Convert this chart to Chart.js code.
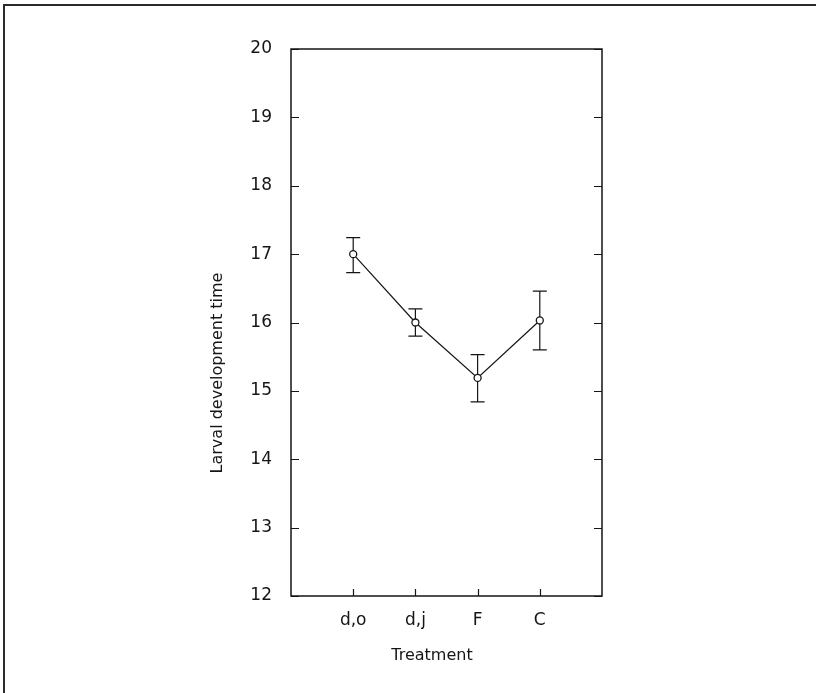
<!DOCTYPE html>
<html>
<head>
<meta charset="utf-8">
<script src="https://cdn.jsdelivr.net/npm/chart.js@4/dist/chart.umd.min.js"></script>
<style>
  html, body { margin: 0; padding: 0; background: #fff; }
  #wrap { position: relative; width: 816px; height: 693px; }
</style>
</head>
<body>
<div id="wrap"><canvas id="c" width="816" height="693"></canvas></div>
<script>
const categories = ['d,o', 'd,j', 'F', 'C'];
const means = [17.0, 16.0, 15.19, 16.03];
const errHigh = [17.24, 16.2, 15.53, 16.46];
const errLow = [16.73, 15.8, 14.84, 15.6];
const yTicks = [12, 13, 14, 15, 16, 17, 18, 19, 20];
const xTitle = 'Treatment';
const yTitle = 'Larval development time';

const INK = '#151515';
Chart.defaults.font.family = "'DejaVu Sans', sans-serif";
Chart.defaults.color = INK;

const decor = {
  id: 'decor',
  beforeDraw(chart) {
    const ctx = chart.ctx;
    ctx.save();
    ctx.fillStyle = '#fff';
    ctx.fillRect(0, 0, chart.width, chart.height);
    ctx.strokeStyle = '#2a2a2a';
    ctx.lineWidth = 2;
    ctx.beginPath();
    ctx.moveTo(4, chart.height);
    ctx.lineTo(4, 5);
    ctx.lineTo(chart.width, 5);
    ctx.stroke();
    ctx.restore();
  },
  beforeDatasetsDraw(chart) {
    const ctx = chart.ctx;
    const xs = chart.scales.x, ys = chart.scales.y;
    const a = chart.chartArea;
    ctx.save();
    // plot box
    ctx.strokeStyle = INK;
    ctx.lineWidth = 1.5;
    ctx.strokeRect(a.left, a.top, a.right - a.left, a.bottom - a.top);
    // inward ticks
    ctx.lineWidth = 1.2;
    ctx.beginPath();
    yTicks.forEach(v => {
      const py = Math.round(ys.getPixelForValue(v)) + 0.5;
      ctx.moveTo(a.left, py); ctx.lineTo(a.left + 8, py);
      ctx.moveTo(a.right, py); ctx.lineTo(a.right - 8, py);
    });
    categories.forEach((c, i) => {
      const px = Math.round(xs.getPixelForValue(i + 1)) + 0.5;
      ctx.moveTo(px, a.bottom); ctx.lineTo(px, a.bottom - 7);
    });
    ctx.stroke();
    // error bars
    ctx.lineWidth = 1.2;
    ctx.beginPath();
    categories.forEach((c, i) => {
      const px = xs.getPixelForValue(i + 1);
      const hi = ys.getPixelForValue(errHigh[i]);
      const lo = ys.getPixelForValue(errLow[i]);
      ctx.moveTo(px, hi); ctx.lineTo(px, lo);
      ctx.moveTo(px - 7, hi); ctx.lineTo(px + 7, hi);
      ctx.moveTo(px - 7, lo); ctx.lineTo(px + 7, lo);
    });
    ctx.stroke();
    // titles
    ctx.fillStyle = INK;
    ctx.font = "16px 'DejaVu Sans', sans-serif";
    ctx.textAlign = 'center';
    ctx.textBaseline = 'middle';
    ctx.fillText(xTitle, 432, 656);
    ctx.translate(218, 373);
    ctx.rotate(-Math.PI / 2);
    ctx.fillText(yTitle, 0, 0);
    ctx.restore();
  }
};

new Chart(document.getElementById('c'), {
  type: 'line',
  data: {
    datasets: [{
      data: means.map((v, i) => ({ x: i + 1, y: v })),
      borderColor: INK,
      borderWidth: 1.2,
      backgroundColor: '#fff',
      pointBorderColor: INK,
      pointBackgroundColor: '#fff',
      pointBorderWidth: 1.3,
      pointRadius: 3.5,
      tension: 0,
      fill: false
    }]
  },
  options: {
    responsive: false,
    animation: false,
    events: [],
    layout: { padding: { top: 49, right: 214, left: 0, bottom: 0 } },
    plugins: { legend: { display: false }, tooltip: { enabled: false }, title: { display: false } },
    scales: {
      x: {
        type: 'linear',
        min: 0, max: 5,
        grid: { display: false, drawTicks: false },
        border: { display: false },
        afterBuildTicks: s => { s.ticks = categories.map((c, i) => ({ value: i + 1 })); },
        afterFit: s => { s.height = 97; },
        ticks: {
          autoSkip: false,
          maxRotation: 0,
          padding: 14,
          font: { size: 17 },
          color: INK,
          callback: v => categories[v - 1] ?? ''
        }
      },
      y: {
        type: 'linear',
        min: 12, max: 20,
        grid: { display: false, drawTicks: false },
        border: { display: false },
        afterBuildTicks: s => { s.ticks = yTicks.map(v => ({ value: v })); },
        afterFit: s => { s.width = 291; },
        ticks: {
          padding: 19,
          font: { size: 17 },
          color: INK
        }
      }
    }
  },
  plugins: [decor]
});
</script>
</body>
</html>
